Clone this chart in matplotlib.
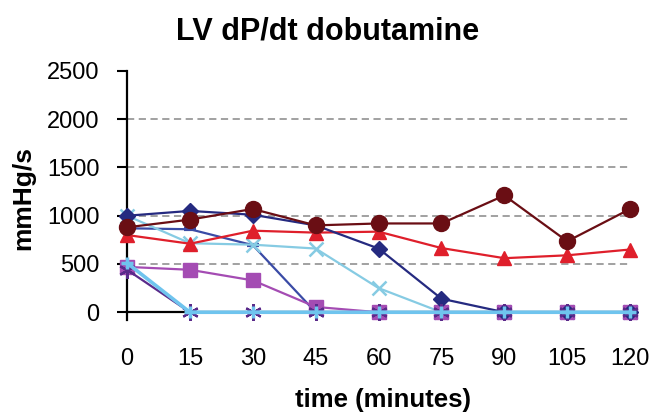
import matplotlib.pyplot as plt

plt.rcParams['font.family'] = ['Liberation Sans', 'DejaVu Sans']

minutes = [0, 15, 30, 45, 60, 75, 90, 105, 120]

# one series per animal, dP/dt in mmHg/s
navy_diamond = [1000, 1050, 1010, 900, 660, 140, 0, 0, 0]
maroon_circle = [880, 960, 1070, 900, 920, 920, 1210, 735, 1070]
red_triangle = [800, 710, 845, 825, 835, 665, 560, 590, 650]
sky_x = [1000, 715, 700, 660, 250, 0, 0, 0, 0]
blue_dash = [870, 860, 695, 0, 0, 0, 0, 0, 0]
purple_square = [470, 440, 330, 55, 0, 0, 0, 0, 0]
violet_star = [440, 0, 0, 0, 0, 0, 0, 0, 0]
light_plus = [510, 0, 0, 0, 0, 0, 0, 0, 0]

fig = plt.figure(figsize=(6.55, 4.15), dpi=100)
ax = fig.add_axes([0.194, 0.229, 0.768, 0.600])

for y in [500, 1000, 1500, 2000]:
    ax.axhline(y, color='#9a9a9a', lw=1.3, ls=(0, (4, 2.5)), zorder=1)
ax.axhline(0, color='black', lw=1.6, zorder=2, clip_on=False)

kw = dict(lw=1.6, clip_on=False)
ax.plot(minutes, maroon_circle, color='#6a0e14', marker='o', ms=11.5, zorder=5, **kw)
ax.plot(minutes, red_triangle, color='#df1f2b', marker='^', ms=10.5, zorder=4, **kw)
ax.plot(minutes, navy_diamond, color='#252a80', marker='D', ms=8, zorder=4, **kw)
ax.plot(minutes, blue_dash, color='#3a4ba6', marker='_', ms=9, mew=3, zorder=3, **kw)
ax.plot(minutes, sky_x, color='#86cbe3', marker='x', ms=10, mew=1.8, zorder=3, **kw)
ax.plot(minutes, purple_square, color='#a44cb3', marker='s', ms=10.5, zorder=3, **kw)
ax.plot(minutes, violet_star, color='#5a2a8a', marker=(6, 2, 0), ms=12, mew=1.6, zorder=6, **kw)
ax.plot(minutes, light_plus, color='#6fc4ee', marker='+', ms=9, lw=2.6, mew=2.5, zorder=7, clip_on=False)

ax.set_xlim(0, 120)
ax.set_ylim(-80, 2500)
ax.set_xticks(minutes)
ax.set_yticks([0, 500, 1000, 1500, 2000, 2500])
ax.tick_params(axis='x', length=0, pad=20, labelsize=17)
ax.tick_params(axis='y', length=7, width=1.5, direction='out', pad=13, labelsize=17)

for side in ['top', 'right', 'bottom']:
    ax.spines[side].set_visible(False)
ax.spines['left'].set_linewidth(1.6)

fig.text(328 / 655, 1 - 31 / 415, 'LV dP/dt dobutamine', fontsize=22,
         fontweight='bold', ha='center', va='center')
ax.set_xlabel('time (minutes)', fontsize=18.5, fontweight='bold', va='center')
ax.xaxis.set_label_coords(0.509, -0.32)
ax.set_ylabel('mmHg/s', fontsize=19, fontweight='bold', va='center')
ax.yaxis.set_label_coords(-0.207, 0.49)

fig.savefig('out.png', dpi=100)
